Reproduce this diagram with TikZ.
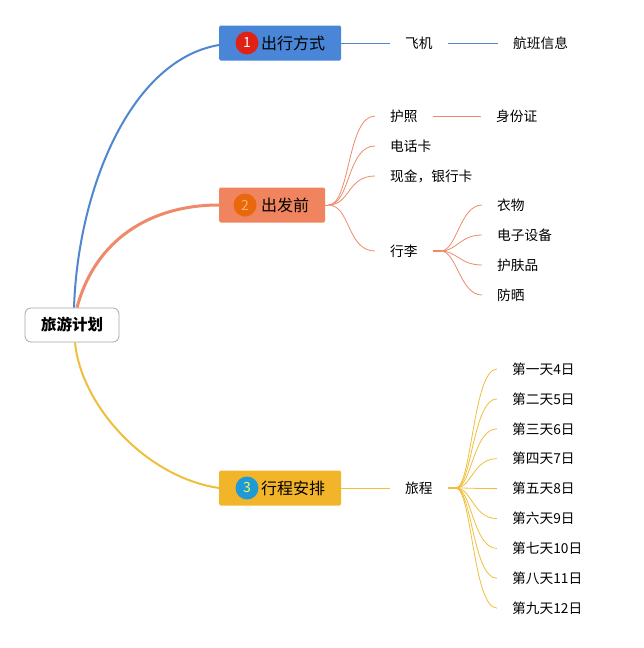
\documentclass[tikz,border=0pt]{standalone}
\usepackage{fontspec}
\setmainfont{Noto Sans CJK SC}
\usetikzlibrary{calc}
\definecolor{cblue}{HTML}{4A86D8}
\definecolor{cblueline}{HTML}{4F86CF}
\definecolor{corange}{HTML}{F0845F}
\definecolor{corangeline}{HTML}{EE8A6A}
\definecolor{cyellow}{HTML}{F2B52A}
\definecolor{cyellowline}{HTML}{EFBE3A}
\definecolor{cred}{HTML}{DE2216}
\definecolor{cdorange}{HTML}{E8680E}
\definecolor{ccyan}{HTML}{1E9AD6}
\begin{document}
\begin{tikzpicture}[x=1pt,y=-1pt,
  rootbox/.style={draw=black!35, rounded corners=6pt, line width=0.8pt, fill=white,
    minimum width=94pt, minimum height=34pt, font=\fontsize{15.5pt}{18pt}\selectfont\bfseries},
  mainbox/.style={rounded corners=1.5pt, minimum height=35pt, inner xsep=16pt,
    font=\fontsize{16pt}{18pt}\selectfont, anchor=west},
  numc/.style={circle, inner sep=0pt, minimum size=23pt, font=\fontsize{14pt}{16pt}\selectfont},
  leaf/.style={inner xsep=15pt, inner ysep=2pt, anchor=west, font=\fontsize{13.7pt}{16pt}\selectfont},
  thinb/.style={cblueline, line width=0.8pt},
  thino/.style={corangeline, line width=0.8pt},
  thiny/.style={cyellowline, line width=0.8pt}
]
\useasboundingbox (0,0) rectangle (643,648);

% root
\node[rootbox] (root) at (72,325) {旅游计划};

% main boxes
\node[mainbox, fill=cblue, minimum width=121pt] (b1) at (219,43) {\hspace*{26pt}出行方式};
\node[mainbox, fill=corange, minimum width=105pt] (b2) at (219,205) {\hspace*{26pt}出发前};
\node[mainbox, fill=cyellow, minimum width=121pt] (b3) at (219,488) {\hspace*{26pt}行程安排};
\node[numc, fill=cred, text=white] (n1) at ($(b1.west)+(28,0)$) {1};
\node[numc, fill=cdorange, text=orange!60!white] (n2) at ($(b2.west)+(26,0)$) {2};
\node[numc, fill=ccyan, text=yellow!70!white] (n3) at ($(b3.west)+(28,0)$) {3};

% root connectors
\draw[cblueline, line width=2pt] ($(root.north)+(2,0)$) .. controls (78,190) and (130,60) .. ($(b1.west)+(0,2)$);
\draw[corangeline, line width=3pt] ($(root.north)+(5,0)$) .. controls (95,240) and (150,205) .. (b2.west);
\draw[cyellowline, line width=2pt] ($(root.south)+(3,0)$) .. controls (81,405) and (145,477) .. (b3.west);

% branch 1
\node[leaf] (fj) at (390,43) {飞机};
\node[leaf] (hb) at (498,43) {航班信息};
\draw[thinb] (b1.east) -- (fj.west);
\draw[thinb] (fj.east) -- (hb.west);

% branch 2
\node[leaf] (hz) at (375,116) {护照};
\node[leaf] (dh) at (375,146) {电话卡};
\node[leaf] (xj) at (375,176) {现金，银行卡};
\node[leaf] (xl) at (375,251) {行李};
\node[leaf] (sf) at (481,116) {身份证};
\node[leaf] (yw) at (482,205) {衣物};
\node[leaf] (dz) at (482,235) {电子设备};
\node[leaf] (hf) at (482,265) {护肤品};
\node[leaf] (fs) at (482,295) {防晒};

\coordinate (b2o) at ($(b2.east)+(3,0)$);
\draw[thino] (b2.east) -- (b2o);
\foreach \c in {hz,dh,xj,xl}{
  \draw[thino] (b2o) .. controls ($(b2o)+(22,0)$) and ($(\c.west)+(-28,0)$) .. (\c.west);
}
\draw[thino] (hz.east) -- (sf.west);
\coordinate (xlo) at ($(xl.east)+(8,0)$);
\draw[corangeline, line width=2.5pt] (xl.east) -- (xlo);
\foreach \c in {yw,dz,hf,fs}{
  \draw[thino] (xlo) .. controls ($(xlo)+(16,0)$) and ($(\c.west)+(-22,0)$) .. (\c.west);
}

% branch 3
\node[leaf] (lc) at (390,488) {旅程};
\draw[thiny] (b3.east) -- (lc.west);
\coordinate (lco) at ($(lc.east)+(8,0)$);
\draw[cyellowline, line width=2.5pt] (lc.east) -- (lco);
\foreach \i/\t in {0/第一天4日,1/第二天5日,2/第三天6日,3/第四天7日,4/第五天8日,5/第六天9日,6/第七天10日,7/第八天11日,8/第九天12日}{
  \node[leaf] (d\i) at (497,{369+29.9*\i}) {\t};
  \draw[thiny] (lco) .. controls ($(lco)+(16,0)$) and ($(d\i.west)+(-24,0)$) .. (d\i.west);
}
\end{tikzpicture}
\end{document}
